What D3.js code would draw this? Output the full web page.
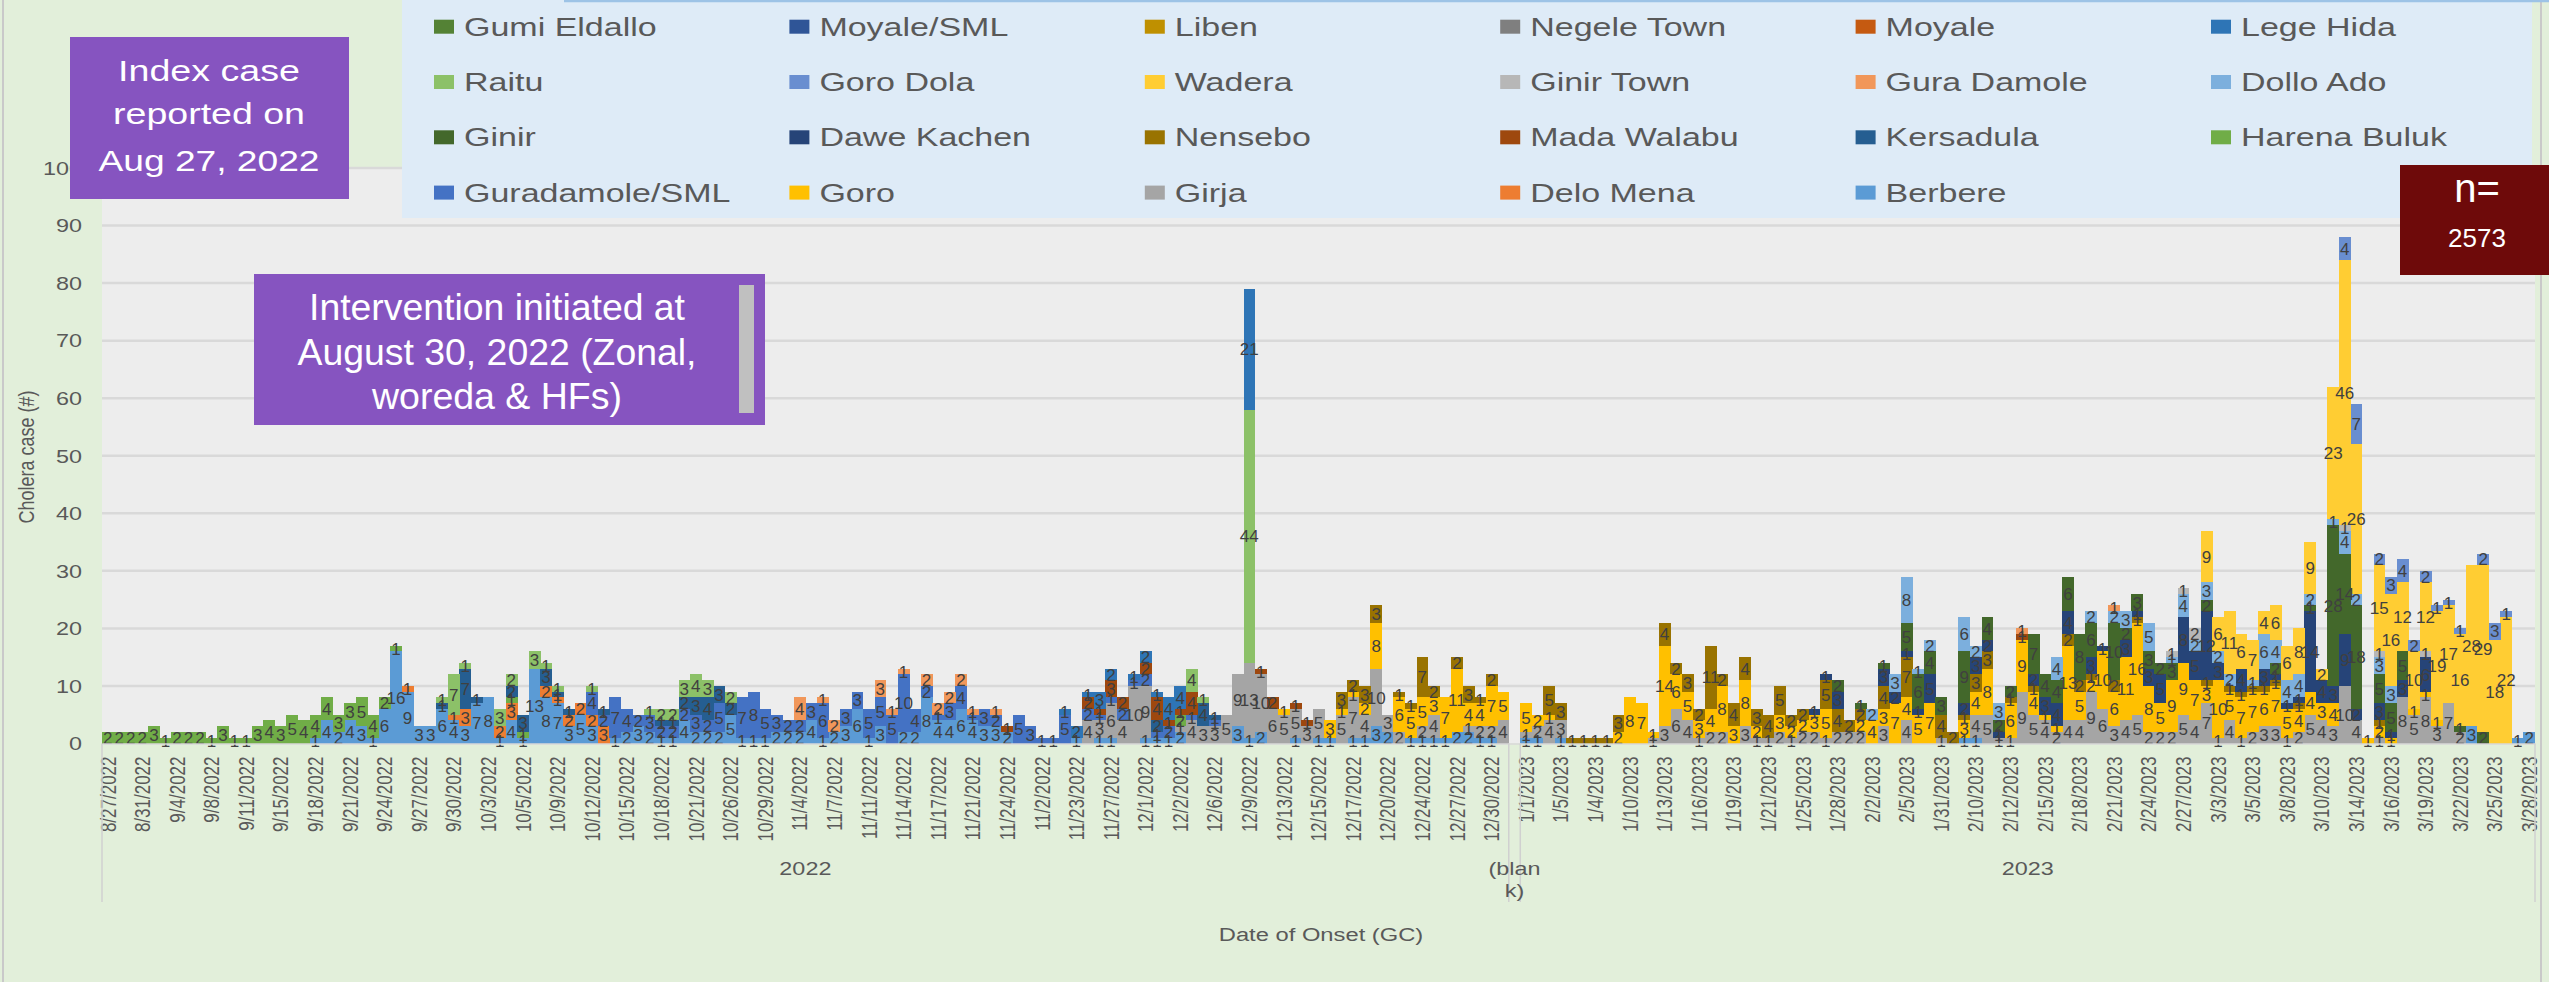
<!DOCTYPE html>
<html>
<head>
<meta charset="utf-8">
<script src="https://cdn.jsdelivr.net/npm/d3@7"></script>
<style>
  body { margin: 0; background: #E2EFDA; }
  text { font-family: "Liberation Sans", Arial, sans-serif; }
</style>
</head>
<body>
<svg id="chart" width="2549" height="982"></svg>
<script>
// legend order (Excel stacks them the other way round: Berbere at the bottom)
const seriesNames = ["Gumi Eldallo", "Moyale/SML", "Liben", "Negele Town", "Moyale", "Lege Hida",
  "Raitu", "Goro Dola", "Wadera", "Ginir Town", "Gura Damole", "Dollo Ado",
  "Ginir", "Dawe Kachen", "Nensebo", "Mada Walabu", "Kersadula", "Harena Buluk",
  "Guradamole/SML", "Goro", "Girja", "Delo Mena", "Berbere"];
const seriesCodes = ["GE", "MS", "LI", "NT", "MO", "LH", "RA", "GR", "WA", "GT", "GD", "DA",
  "GN", "DK", "NE", "MW", "KE", "HB", "GS", "GO", "GI", "DM", "BE"];
const seriesColors = ["#548235", "#2F5597", "#BF9000", "#7F7F7F", "#C55A11", "#2E75B6",
  "#8CC168", "#698ED0", "#FFCD33", "#B7B7B7", "#F1975A", "#7CAFDD",
  "#43682B", "#264478", "#997300", "#9E480E", "#255E91", "#70AD47",
  "#4472C4", "#FFC000", "#A5A5A5", "#ED7D31", "#5B9BD5"];

// visible date labels (every third category)
const tickLabels = ["8/27/2022", "8/31/2022", "9/4/2022", "9/8/2022", "9/11/2022", "9/15/2022",
  "9/18/2022", "9/21/2022", "9/24/2022", "9/27/2022", "9/30/2022", "10/3/2022", "10/5/2022",
  "10/9/2022", "10/12/2022", "10/15/2022", "10/18/2022", "10/21/2022", "10/26/2022",
  "10/29/2022", "11/4/2022", "11/7/2022", "11/11/2022", "11/14/2022", "11/17/2022",
  "11/21/2022", "11/24/2022", "11/2/2022", "11/23/2022", "11/27/2022", "12/1/2022",
  "12/2/2022", "12/6/2022", "12/9/2022", "12/13/2022", "12/15/2022", "12/17/2022",
  "12/20/2022", "12/24/2022", "12/27/2022", "12/30/2022", "1/1/2023", "1/5/2023",
  "1/4/2023", "1/10/2023", "1/13/2023", "1/16/2023", "1/19/2023", "1/21/2023", "1/25/2023",
  "1/28/2023", "2/2/2023", "2/5/2023", "1/31/2023", "2/10/2023", "2/12/2023", "2/15/2023",
  "2/18/2023", "2/21/2023", "2/24/2023", "2/27/2023", "3/3/2023", "3/5/2023", "3/8/2023",
  "3/10/2023", "3/14/2023", "3/16/2023", "3/19/2023", "3/22/2023", "3/25/2023", "3/28/2023"];
const tickStep = 3;

// outer axis level: [label, first category, last category]
const yearGroups = [["2022", 0, 121], ["(blank)", 122, 122], ["2023", 123, 210]];

// cases per day of onset, code + count for each woreda
const dailyCases = [
  "HB2", "HB2", "HB2", "HB2", "HB3", "HB1", "HB2", "HB2", "HB2", "HB1",
  "HB3", "HB1", "HB1", "HB3", "HB4", "HB3", "HB5", "HB4", "BE1 HB4", "BE4 HB4",
  "BE2 HB3", "BE4 HB3", "BE3 HB5", "BE1 HB4", "BE6 HB2", "BE16 HB1", "BE9 DM1", "BE3", "BE3", "BE6 KE1 RA1",
  "BE4 DM1 RA7", "BE3 DM3 KE7 RA1", "BE7 KE1", "BE8", "BE1 DM2 RA3", "BE4 DM3 HB1 KE2 RA2", "BE1 HB1 KE3", "BE13 RA3", "BE8 DM2 KE3 RA1", "BE7 DM1 KE1 RA1",
  "BE3 DM2 KE1", "BE5 DM2", "BE3 DM2 GS4 RA1", "DM3 GS2 KE1", "BE1 GS7", "BE2 GS4", "BE3 GS2", "BE2 GS3 RA1", "BE1 GS2 KE1 RA2", "BE1 GS2 KE1 RA2",
  "BE4 GS2 KE2 RA3", "BE2 GS3 KE3 RA4", "BE2 GS2 KE4 RA3", "BE2 GS5 KE3", "BE5 KE2 RA2", "BE1 GS7", "BE1 GS8", "BE1 GS5", "BE2 GS3", "BE2 GS2",
  "BE2 GS2 GD4", "BE4 GS3", "BE1 GS6 GD1", "BE2 GD2", "BE3 GS3", "BE6 GS3", "BE1 GS5", "BE3 GS5 GD3", "GS5 GD1", "BE2 GS10 GD1",
  "BE2 GS4", "BE8 GS2 GD2", "BE4 GS1 GD2", "BE4 GS3 GD2", "BE6 GS4 GD2", "BE4 GS1 GD1", "BE3 GS3", "BE3 GS2 GD1", "BE2 MW1", "GS5",
  "GS3", "GS1", "GS1", "GS5 LH1", "BE1 LH2", "GI4 GS2 MW2 LH1", "BE1 GI3 GS1 MW1 LH3", "BE1 GI6 GS1 MW3 LH2", "GI4 GS2 MW2", "GI10 GS1 LH1",
  "BE1 GI9 GS2 MW2 LH2", "BE1 GS1 KE2 MW4 LH1", "BE1 GS2 MW1 LH4", "BE2 GI1 HB2 MW1 LH4", "GI4 GS1 MW4 RA4", "GI3 KE4 RA1", "GI3 GS1 KE1", "GI5", "BE3 GI9", "BE1 GI13 RA44 LH21",
  "BE2 GI10 MW1", "GI6 MW2", "GI5 GO1", "BE1 GI5 MW1", "GI3 MW1", "BE1 GI5", "BE1 GO3", "GI5 GO1 NE3", "BE1 GI7 GO1 NE2", "BE1 GI4 GO2 NE3",
  "BE3 GI10 GO8 NE3", "BE2 GI3", "GI2 GO6 NE1", "BE1 GO5 NE1", "BE1 GI2 GO5 NE7", "BE1 GI4 GO3 NE2", "BE1 GO7", "BE2 GO11 NE2", "BE2 GI1 GO4 NE3", "BE1 GI2 GO4 NE1",
  "BE1 GI2 GO7 NE2", "GI4 GO5", "", "BE1 GI1 GO5", "BE1 GI2 GO2", "GI4 GO1 NE5", "BE1 GI3 NE3", "NE1", "NE1", "NE1",
  "NE1", "GO2 NE3", "GO8", "GO7", "GI1 GO1", "GI3 GO14 NE4", "GI6 GO6 NE2", "GI4 GO5 NE3", "GI1 GO3 NE2", "GI2 GO4 NE11",
  "GI2 GO8 NE2", "GO3 NE4", "GI3 GO8 NE4", "GI1 GO2 NE3", "GI1 NE4", "GI2 GO3 NE5", "GI1 GO2 NE2", "GI2 GO2 NE2", "GI2 GO3 DK1", "GI1 GO5 NE5 DK1",
  "GI2 NE4 DK3 GN2", "GI2 NE2", "GI2 GO2 NE2 GN1", "GO4 DA2", "GI3 GO3 NE4 DK3 GN1", "GO7 DK2 DA3", "GI4 GO4 NE7 DK1 GN5 DA8", "GO5 DK1 GN6 DA1", "GO7 DK5 GN4 DA2", "GI1 NE4 GN3",
  "NE2", "BE1 GO3 NE1 DK2 GN9 DA6", "BE1 GI4 GO4 NE3 DK3 DA2", "GI5 GO8 NE3 DK2 GN4", "GI1 DK1 GN2 DA3", "GI1 GO6 NE1 GN2", "GI9 GO9 MW1 GD1", "GI5 GO4 NE1 DK2 GN7", "GI4 GO1 DK3 GN4", "GI2 GO1 DK4 GN4 DA4",
  "GI4 GO13 NE2 DK4 GN6", "GI4 GO5 NE2 GN8", "GI9 GO2 NE1 DK3 GN6 DA2", "GI6 GO10 DK1", "GI3 GO6 NE2 GN10 DA2 GD1", "GI4 GO11 DK3 GN2 DA3", "GI5 GO16 NE1 DK1 GN3", "GI2 GO8 DK3 GN3 DA5", "GI2 GO5 DK5 GN2", "GI2 GO9 GN3 DA1 GT1",
  "GI5 GO9 DK8 DA4 GT1", "GI4 GO7 DK5 DA2 GT2", "GI7 GO3 NE1 DK12 GN2 DA3 WA9", "GI1 GO10 DK3 DA2 WA6", "GI4 GO5 NE1 DA2 WA11", "GI1 GO7 NE1 DK4 WA6", "GI2 GO7 NE1 DA1 WA7", "GI3 GO6 NE1 DK3 DA6 WA4", "GI3 GO7 NE1 DK1 GN2 DA4 WA6", "GI1 GO5 DK1 DA4 WA6",
  "GI2 GO4 NE1 DK1 DA4 WA8", "GI5 GO4 DK14 GN1 DA2 WA9", "GI4 GO3 DK4 WA2", "GI3 GO4 DK3 GN28 DA1 WA23", "GI10 DK9 GN14 DA4 GT1 WA46 GR4", "GI4 DK2 GN18 DA2 WA26 GR7", "GO1", "GI1 GO2 NE1 DK3 GN5 DA3 GT1 WA15 GR2", "GO1 DK1 GN5 DA3 WA16 GR3", "GI8 DK3 GN5 WA12 GR4",
  "GI5 GO1 WA10 GR2", "GI8 GO1 DK6 GT1 WA12 GR2", "GI3 GO1 WA19 GR1", "GI7 WA17 GR1", "GI2 GN1 WA16 GR1", "BE3 WA28", "GN2 WA29 GR2", "WA18 GR3", "WA22 GR1", "BE1",
  "BE2"
];

const totalCases = "2573";

// ---- layout ----
const W = 2549, H = 982;
const plot = { left: 102, right: 2535, top: 168, bottom: 743.5 };

const svg = d3.select("#chart");

// table for d3.stack
const table = dailyCases.map((s, i) => {
  const row = { idx: i };
  seriesCodes.forEach((c) => (row[c] = 0));
  s.split(" ").filter(Boolean).forEach((t) => {
    const m = t.match(/^([A-Z]+)(\d+)$/);
    row[m[1]] = +m[2];
  });
  return row;
});
const stackKeys = seriesCodes.slice().reverse();
const colorOf = {};
seriesCodes.forEach((c, k) => (colorOf[c] = seriesColors[k]));

const x = d3.scaleBand().domain(d3.range(dailyCases.length)).range([plot.left, plot.right]).padding(0);
const y = d3.scaleLinear().domain([0, 100]).range([plot.bottom, plot.top]);

// background + frame
svg.append("rect").attr("x", 0).attr("y", 0).attr("width", W).attr("height", H).attr("fill", "#E2EFDA");
svg.append("rect").attr("x", 3).attr("y", -2).attr("width", 2538).attr("height", H + 4)
  .attr("fill", "none").attr("stroke", "#C9C9C9").attr("stroke-width", 2);

// plot area
svg.append("rect").attr("x", plot.left).attr("y", plot.top)
  .attr("width", plot.right - plot.left).attr("height", plot.bottom - plot.top).attr("fill", "#EDEDED");

// gridlines
svg.append("g").selectAll("line").data(d3.range(10, 101, 10)).join("line")
  .attr("x1", plot.left).attr("x2", plot.right)
  .attr("y1", (d) => y(d)).attr("y2", (d) => y(d))
  .attr("stroke", "#D9D9D9").attr("stroke-width", 2.5);

// y axis labels
const yAxis = svg.append("g").attr("transform", "translate(82,0)")
  .call(d3.axisLeft(y).ticks(10).tickSize(0));
yAxis.select(".domain").remove();
yAxis.selectAll("text")
  .attr("x", 0).attr("dy", "0.35em")
  .attr("transform", "scale(1.3,1)")
  .attr("fill", "#595959").style("font-size", "18px")
  .style("font-family", "'Liberation Sans', Arial, sans-serif");

svg.append("text")
  .attr("transform", "translate(34,457) scale(1.25,1) rotate(-90)")
  .attr("text-anchor", "middle").attr("fill", "#595959").style("font-size", "18px")
  .text("Cholera case (#)");

// stacked bars
const layers = d3.stack().keys(stackKeys)(table);
const barG = svg.append("g").attr("shape-rendering", "crispEdges");
layers.forEach((layer) => {
  barG.append("g").attr("fill", colorOf[layer.key])
    .selectAll("rect").data(layer.filter((d) => d[1] > d[0])).join("rect")
    .attr("x", (d) => x(d.data.idx))
    .attr("y", (d) => y(d[1]))
    .attr("width", x.bandwidth() + 0.4)
    .attr("height", (d) => y(d[0]) - y(d[1]));
});

// data labels
const labG = svg.append("g").attr("fill", "#404040").style("font-size", "17px").attr("text-anchor", "middle");
layers.forEach((layer) => {
  labG.append("g").selectAll("text").data(layer.filter((d) => d[1] > d[0])).join("text")
    .attr("x", (d) => x(d.data.idx) + x.bandwidth() / 2)
    .attr("y", (d) => (y(d[0]) + y(d[1])) / 2)
    .attr("dy", "0.36em")
    .text((d) => d[1] - d[0]);
});

// x axis
const xAxis = svg.append("g").attr("transform", `translate(0,${plot.bottom})`)
  .call(d3.axisBottom(x)
    .tickValues(tickLabels.map((d, k) => k * tickStep))
    .tickFormat((i) => tickLabels[i / tickStep])
    .tickSize(0));
xAxis.select(".domain").attr("stroke", "#D9D9D9").attr("stroke-width", 1.5);
xAxis.selectAll("text")
  .attr("x", 0).attr("y", 0).attr("dy", "0.35em")
  .attr("transform", "translate(0,13) scale(1.3,1) rotate(-90)")
  .style("text-anchor", "end")
  .attr("fill", "#595959").style("font-size", "17px")
  .style("font-family", "'Liberation Sans', Arial, sans-serif");

// year groups on the outer level
const groupBottom = 902;
const edges = [plot.left, x(122), x(123), plot.right];
svg.append("g").selectAll("line").data(edges).join("line")
  .attr("x1", (d) => d).attr("x2", (d) => d)
  .attr("y1", plot.bottom).attr("y2", groupBottom)
  .attr("stroke", "#D0D0D0").attr("stroke-width", 1.5);
yearGroups.forEach(([label, a, b]) => {
  const cx = (x(a) + x(b) + x.bandwidth()) / 2;
  const lines = label === "(blank)" ? ["(blan", "k)"] : [label];
  lines.forEach((ln, k) => {
    svg.append("text")
      .attr("transform", `translate(${cx},${875 + k * 22}) scale(1.3,1)`)
      .attr("text-anchor", "middle").attr("fill", "#595959").style("font-size", "18px")
      .text(ln);
  });
});

svg.append("text")
  .attr("transform", "translate(1321,941) scale(1.32,1)")
  .attr("text-anchor", "middle").attr("fill", "#595959").style("font-size", "18px")
  .text("Date of Onset (GC)");

// legend
const legend = svg.append("g");
legend.append("rect").attr("x", 402).attr("y", 0).attr("width", 2130).attr("height", 218).attr("fill", "#DEEBF7");
legend.append("line").attr("x1", 564).attr("x2", W).attr("y1", 1).attr("y2", 1)
  .attr("stroke", "#9DC3E6").attr("stroke-width", 2.5);
const legItems = legend.selectAll("g.item").data(seriesNames).join("g")
  .attr("class", "item")
  .attr("transform", (d, k) => `translate(${434 + (k % 6) * 355.4},${26.7 + Math.floor(k / 6) * 55.3})`);
legItems.append("rect").attr("x", 0).attr("y", -7).attr("width", 20).attr("height", 14)
  .attr("fill", (d, k) => seriesColors[k]);
legItems.append("text")
  .attr("transform", "translate(30,9) scale(1.36,1)")
  .attr("fill", "#595959").style("font-size", "25px")
  .text((d) => d);

// annotation boxes
function noteBox(x0, y0, w, h, fill, lines) {
  const g = svg.append("g");
  g.append("rect").attr("x", x0).attr("y", y0).attr("width", w).attr("height", h).attr("fill", fill);
  lines.forEach((ln) => {
    g.append("text")
      .attr("x", ln.cx).attr("y", ln.y)
      .attr("text-anchor", "middle").attr("fill", "#FFFFFF")
      .style("font-size", ln.size + "px")
      .attr("textLength", ln.len || null)
      .attr("lengthAdjust", "spacingAndGlyphs")
      .text(ln.t);
  });
  return g;
}

noteBox(70, 37, 279, 162, "#8654C0", [
  { t: "Index case", cx: 209, y: 81, size: 30, len: 182 },
  { t: "reported on", cx: 209, y: 124, size: 30, len: 192 },
  { t: "Aug 27, 2022", cx: 209, y: 171, size: 30, len: 221 },
]);

const box2 = noteBox(254, 274, 511, 151, "#8654C0", [
  { t: "Intervention initiated at", cx: 497, y: 320, size: 37, len: 376 },
  { t: "August 30, 2022 (Zonal,", cx: 497, y: 365, size: 37, len: 399 },
  { t: "woreda & HFs)", cx: 497, y: 409, size: 37, len: 250 },
]);
box2.append("rect").attr("x", 739).attr("y", 285).attr("width", 15).attr("height", 128).attr("fill", "#C0C0C0");

noteBox(2400, 165, 149, 110, "#6E0A0A", [
  { t: "n=", cx: 2477, y: 202, size: 40 },
  { t: totalCases, cx: 2477, y: 247, size: 26 },
]);
</script>
</body>
</html>
